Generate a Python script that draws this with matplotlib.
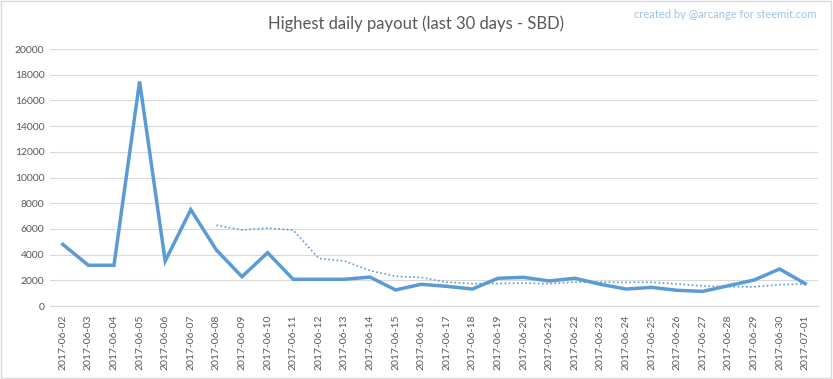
import numpy as np
import pandas as pd
import matplotlib
matplotlib.use("Agg")
import matplotlib.pyplot as plt
from matplotlib.patches import Rectangle

dates = pd.date_range("2017-06-02", "2017-07-01").strftime("%Y-%m-%d").tolist()
payout = [4800, 3170, 3170, 17480, 3500, 7500, 4360, 2280, 4150, 2080,
          2080, 2080, 2250, 1250, 1690, 1530, 1320, 2160, 2230, 1950,
          2160, 1690, 1320, 1450, 1220, 1140, 1580, 2020, 2880, 1740]
yticks = list(range(0, 20001, 2000))

# 7 day moving average trendline, like the Excel one
trend = pd.Series(payout).rolling(7).mean()

plt.rcParams['font.family'] = ['Lato', 'DejaVu Sans']
grey = '#595959'
blue = '#5B9BD5'

fig = plt.figure(figsize=(8.33, 3.79), dpi=100)
ax = fig.add_axes([0.060, 0.1926, 0.922, 0.678])

x = np.arange(len(dates))
ax.plot(x, payout, color=blue, lw=2.5, solid_joinstyle='miter', zorder=3)
ax.plot(x, trend, color=blue, lw=1.2, ls=(0, (1, 1.5)), zorder=2)

ax.set_xlim(-0.5, len(dates) - 0.5)
ax.set_ylim(0, 20000)
ax.set_yticks(yticks)
ax.set_yticklabels([str(v) for v in yticks], color=grey, fontsize=7.5)
ax.set_xticks(x)
ax.set_xticklabels(dates, rotation=90, color=grey, fontsize=7.5)
ax.tick_params(length=0, pad=4)
ax.tick_params(axis='x', pad=6)
ax.grid(axis='y', color='#D9D9D9', lw=0.8)
ax.set_axisbelow(True)
for s in ['top', 'right', 'left']:
    ax.spines[s].set_visible(False)
ax.spines['bottom'].set_color('#D9D9D9')
ax.spines['bottom'].set_linewidth(0.8)

fig.text(0.499, 0.938, 'Highest daily payout (last 30 days - SBD)', ha='center', va='center',
         color=grey, fontsize=12)
fig.text(0.98, 0.963, 'created by @arcange for steemit.com', ha='right', va='center',
         color='#9DC3E6', fontsize=8)

fig.patches.append(Rectangle((0.001, 0.002), 0.997, 0.995, transform=fig.transFigure,
                             fill=False, edgecolor='#D9D9D9', lw=1))

fig.savefig('out.png', dpi=100)
